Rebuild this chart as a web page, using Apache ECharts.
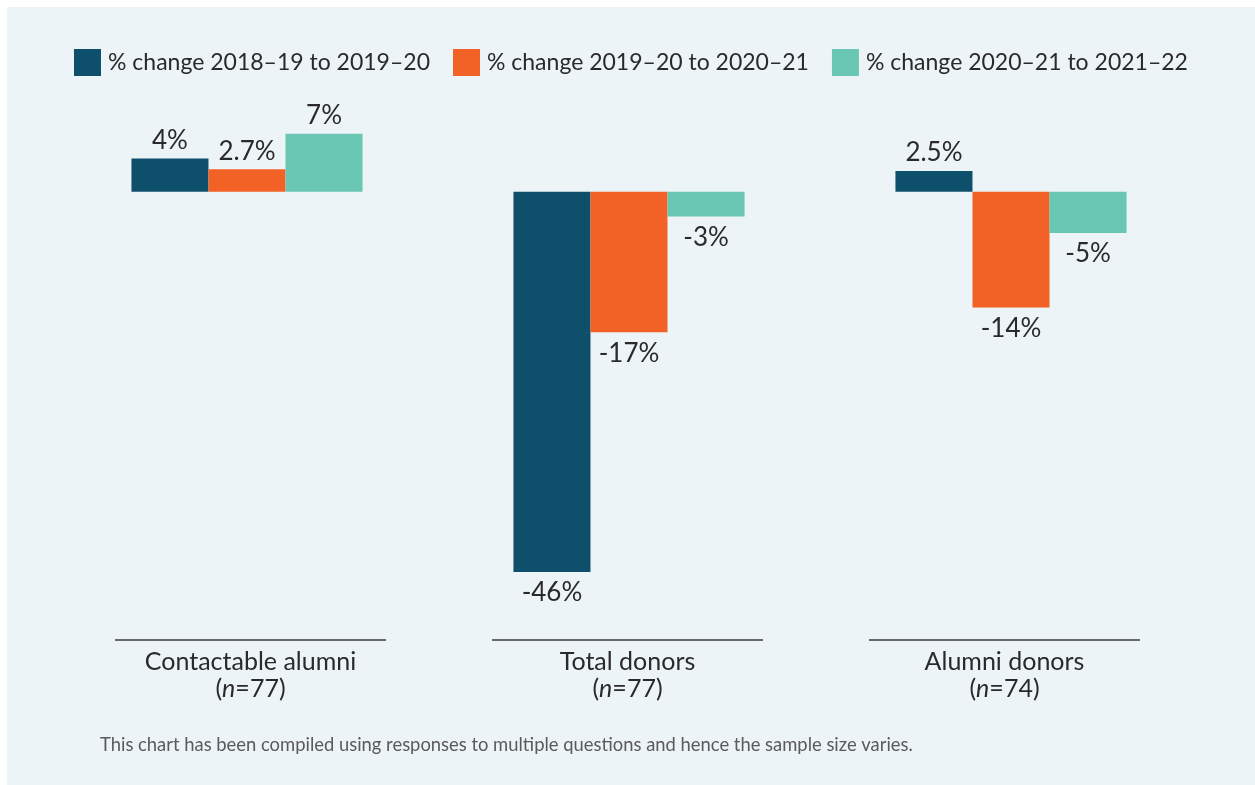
<!DOCTYPE html>
<html>
<head>
<meta charset="utf-8">
<script src="https://cdn.jsdelivr.net/npm/echarts@6/dist/echarts.min.js"></script>
<style>
  html, body { margin: 0; padding: 0; background: #ffffff; }
  #panel { position: absolute; left: 7px; top: 7px; width: 1248px; height: 778px; background: #ecf4f7; }
  #chart { position: absolute; left: 0; top: 0; width: 1255px; height: 785px; }
</style>
</head>
<body>
<div id="panel"></div>
<div id="chart"></div>
<script>
// Year-on-year percentage changes by measure
const categories = ['Contactable alumni', 'Total donors', 'Alumni donors'];
const sampleSizes = [77, 77, 74];
const seriesNames = [
  '% change 2018–19 to 2019–20',
  '% change 2019–20 to 2020–21',
  '% change 2020–21 to 2021–22'
];
const change1819to1920 = [4, -46, 2.5];
const change1920to2021 = [2.7, -17, -14];
const change2021to2122 = [7, -3, -5];
const footnote = 'This chart has been compiled using responses to multiple questions and hence the sample size varies.';

const colors = ['#0e4f6b', '#f26125', '#69c7b4'];
const FONT = 'Lato, "Open Sans", sans-serif';
const textColor = '#2a2a2a';

const chart = echarts.init(document.getElementById('chart'), null, { renderer: 'canvas' });

function barSeries(name, values, color) {
  return {
    name: name,
    type: 'bar',
    xAxisIndex: 0,
    yAxisIndex: 0,
    barGap: '0%',
    barCategoryGap: '39.5%',
    itemStyle: { color: color },
    emphasis: { disabled: true },
    label: {
      show: true,
      formatter: p => p.value + '%',
      fontFamily: FONT,
      fontSize: 26,
      color: textColor
    },
    data: values.map(v => ({
      value: v,
      label: { position: v >= 0 ? 'top' : 'bottom', distance: v >= 0 ? 5 : 8 }
    }))
  };
}

const option = {
  animation: false,
  backgroundColor: 'transparent',
  textStyle: { fontFamily: FONT },
  legend: {
    top: 49,
    left: 74,
    padding: 0,
    itemWidth: 27,
    itemHeight: 27,
    itemGap: 23,
    icon: 'rect',
    selectedMode: false,
    textStyle: { fontFamily: FONT, fontSize: 23, color: textColor, padding: [0, 0, 0, 2] },
    data: seriesNames
  },
  grid: [
    // plot area for the bars
    { left: 56, width: 1146, top: 109, height: 529 },
    // category label row, slightly narrower
    { left: 62, width: 1131, top: 109, height: 529 }
  ],
  xAxis: [
    {
      type: 'category',
      gridIndex: 0,
      data: categories,
      axisLine: { show: false, onZero: false },
      axisTick: { show: false },
      axisLabel: { show: false }
    },
    {
      type: 'category',
      gridIndex: 1,
      data: categories,
      axisLine: { show: false, onZero: false },
      axisTick: { show: false },
      axisLabel: {
        margin: 10,
        interval: 0,
        formatter: (val, idx) => '{a|' + val + '}\n{a|(}{i|n}{a|=' + sampleSizes[idx] + ')}',
        rich: {
          a: { fontFamily: FONT, fontSize: 25, color: textColor, lineHeight: 27.5 },
          i: { fontFamily: FONT, fontSize: 25, color: textColor, lineHeight: 27.5, fontStyle: 'italic' }
        }
      }
    }
  ],
  yAxis: [
    { type: 'value', gridIndex: 0, min: -54, max: 10, show: false, splitLine: { show: false } },
    { type: 'value', gridIndex: 1, min: -54, max: 10, show: false, splitLine: { show: false } }
  ],
  series: [
    barSeries(seriesNames[0], change1819to1920, colors[0]),
    barSeries(seriesNames[1], change1920to2021, colors[1]),
    barSeries(seriesNames[2], change2021to2122, colors[2])
  ]
};

chart.setOption(option);

// Rule above each category label, at the bottom of the plot area
function drawGroupRules() {
  const grid = chart.getModel().getComponent('grid', 1).coordinateSystem.getRect();
  const y = grid.y + grid.height + 2;
  const half = 135.5;
  const elements = categories.map((c, i) => {
    const cx = chart.convertToPixel({ xAxisIndex: 1 }, i);
    return {
      type: 'line',
      shape: { x1: cx - half, y1: y, x2: cx + half, y2: y },
      style: { stroke: '#3a3a3a', lineWidth: 1.3 },
      silent: true
    };
  });
  elements.push({
    type: 'text',
    left: 100,
    top: 736,
    style: { text: footnote, fontFamily: FONT, fontSize: 18.4, fill: '#5a5a5a' },
    silent: true
  });
  chart.setOption({ graphic: { elements: elements } });
}
drawGroupRules();
</script>
</body>
</html>
